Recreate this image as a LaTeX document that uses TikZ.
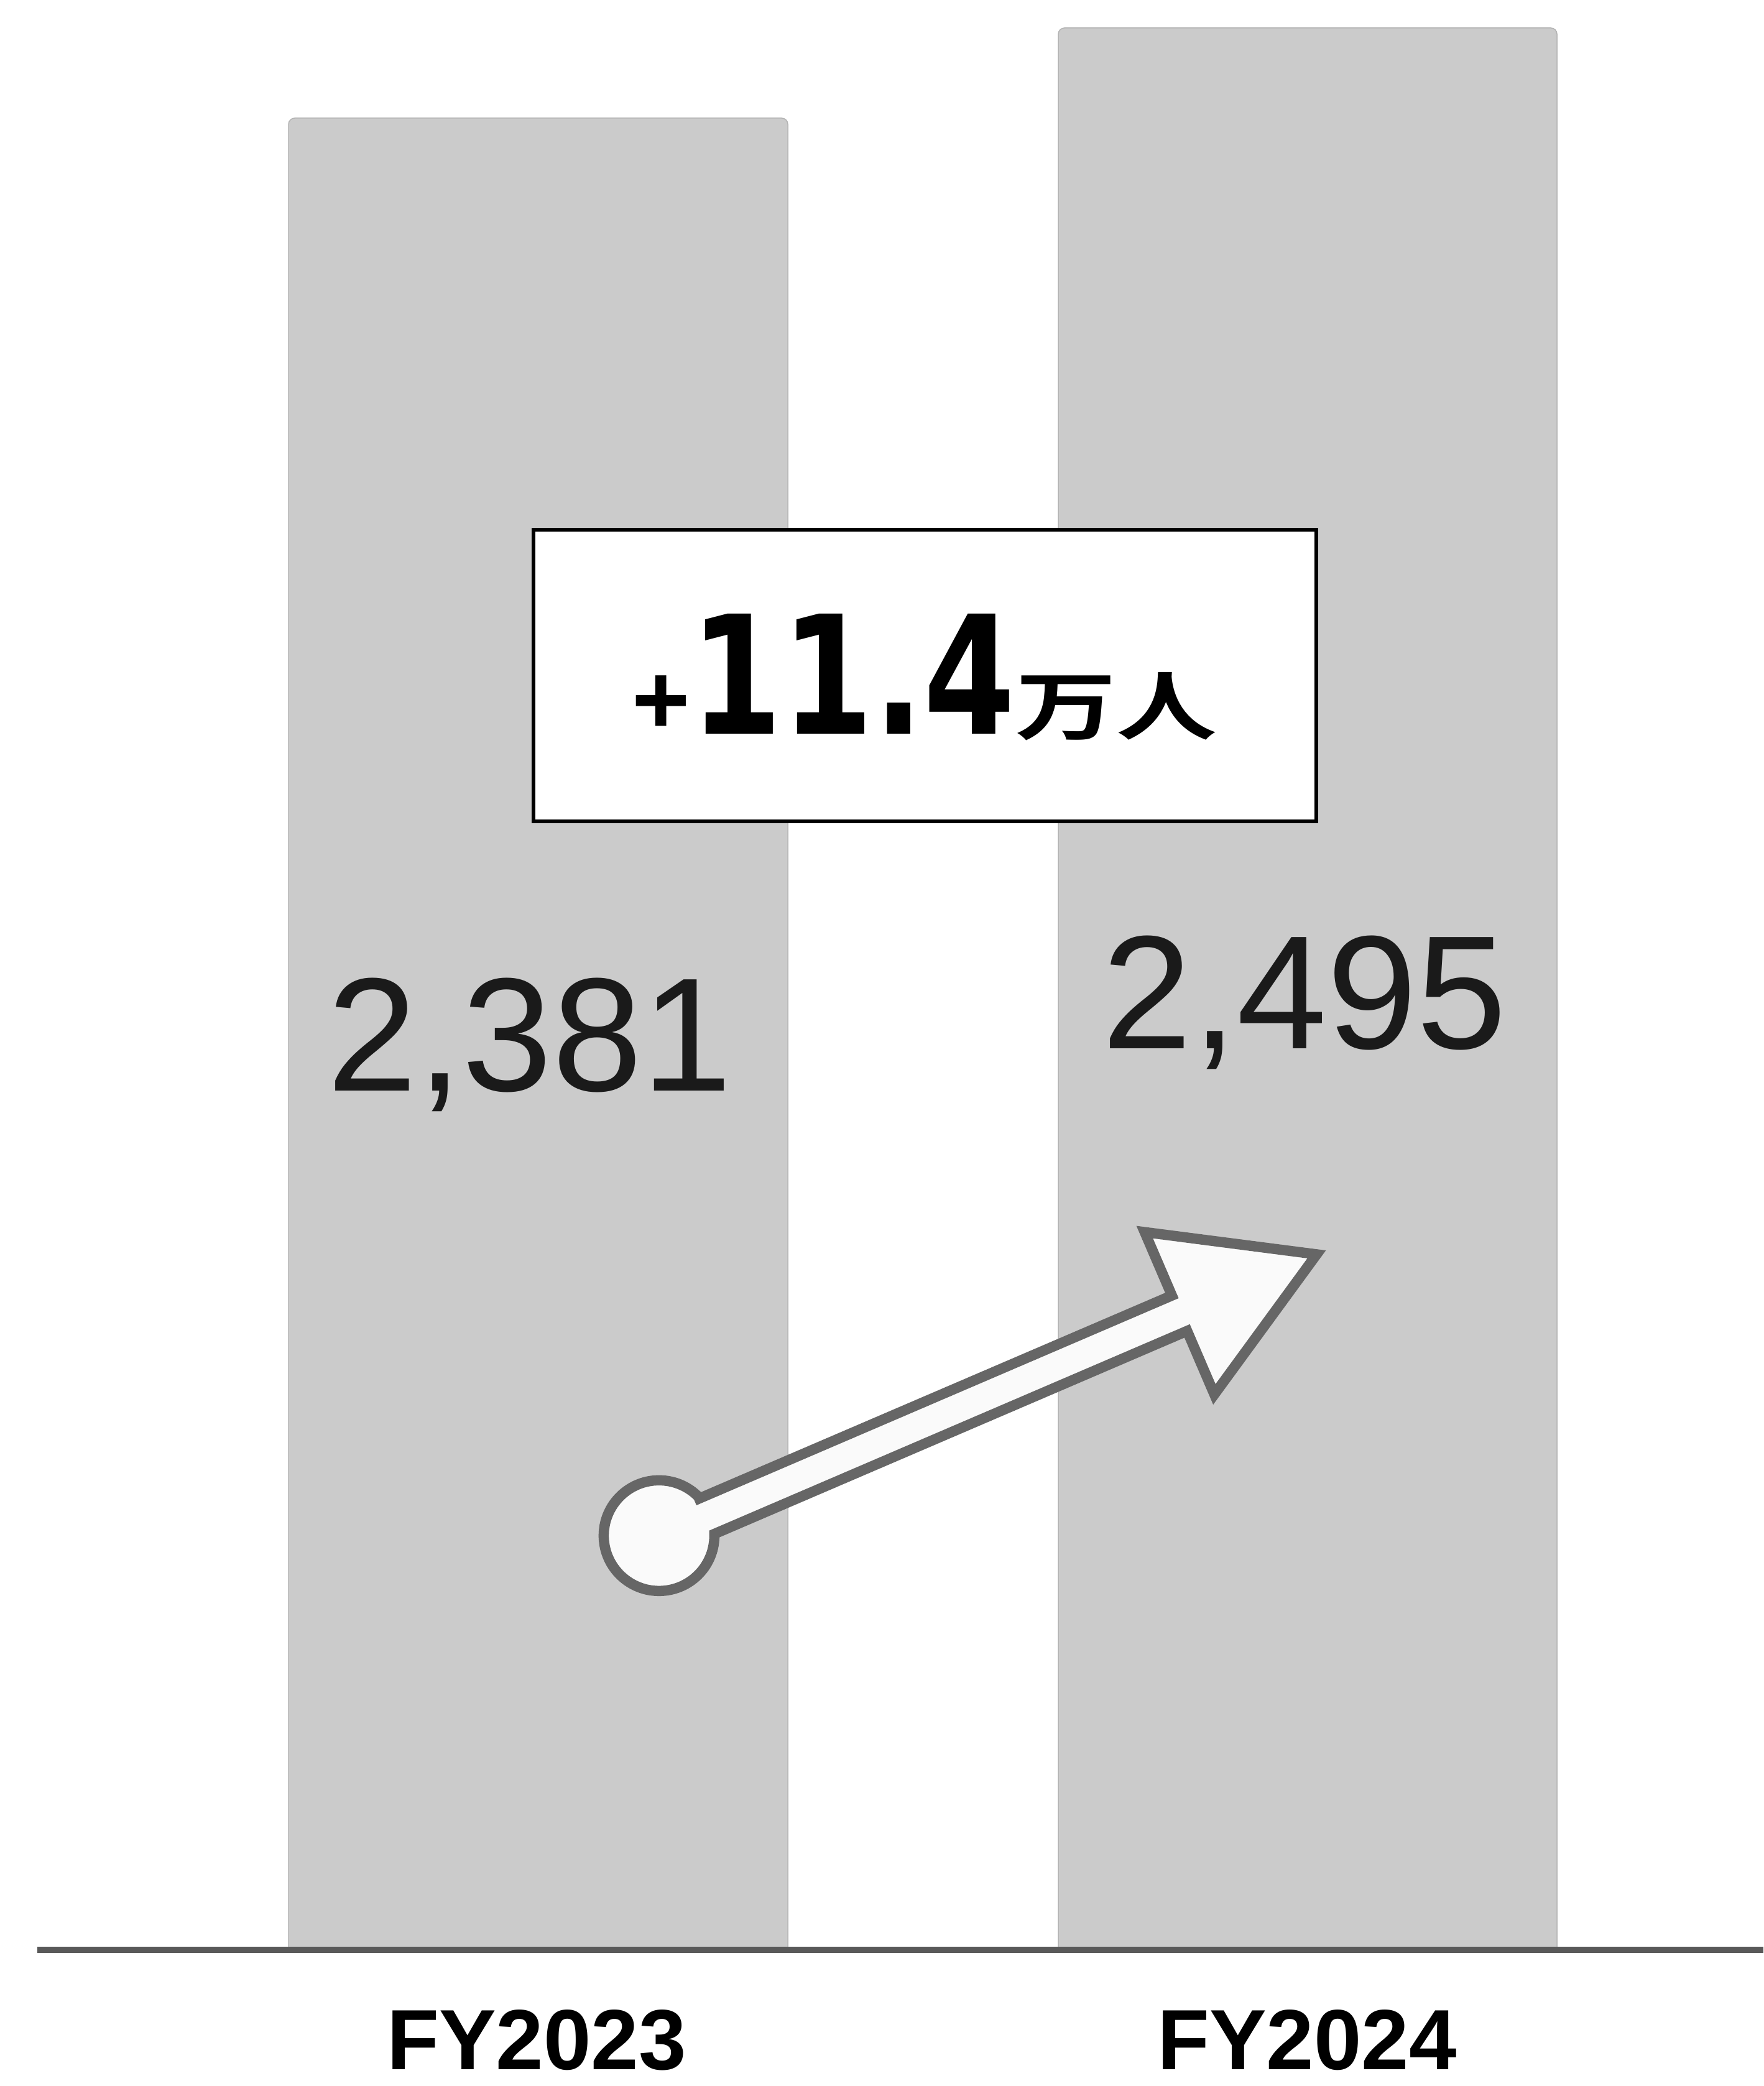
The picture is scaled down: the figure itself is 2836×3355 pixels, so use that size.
\documentclass[tikz,border=0pt]{standalone}
\usepackage{fontspec}
\usepackage{graphicx}
\setmainfont{Liberation Sans}
\newfontfamily\digfont[FakeStretch=0.8]{DejaVu Sans Bold}
\newfontfamily\cjkb{Noto Sans CJK JP Bold}
\definecolor{barfill}{HTML}{CBCBCB}
\definecolor{barline}{HTML}{B3B3B3}
\definecolor{axisc}{HTML}{595959}
\definecolor{arrowc}{HTML}{666666}
\definecolor{txt}{HTML}{1A1A1A}
\tikzset{
  barshape/.style={fill=barfill, draw=barline, line width=0.3pt, rounded corners=2pt},
  valtext/.style={anchor=base, text=txt, inner sep=0pt, font=\fontsize{52}{52}\selectfont},
  yeartext/.style={anchor=base, inner sep=0pt, font=\fontsize{27.5}{27.5}\selectfont\bfseries},
  deltabox/.style={draw=black, fill=white, line width=1.2pt},
  bigarrow/.style={draw=arrowc, fill=white!98!black, line width=3.3pt, line join=miter}
}
\begin{document}
\begin{tikzpicture}[x=0.2pt, y=0.2pt]
\useasboundingbox (0,0) rectangle (2836,3355);
% bars
\path[barshape] (464,219) -- (464,3165) -- (1267,3165) -- (1267,219);
\path[barshape] (1702,219) -- (1702,3310) -- (2504,3310) -- (2504,219);
% axis
\draw[axisc, line width=1.9pt] (60,219) -- (2836,219);
% values
\node[valtext] (v23) at (852,1600) {2,381};
\node[valtext] (v24) at (2098,1668) {2,495};
% years
\node[yeartext] (y23) at (863,26) {FY2023};
\node[yeartext] (y24) at (2102,26) {FY2024};
% delta box
\path[deltabox] (858,2034) rectangle (2117,2503);
\node[anchor=base, inner sep=0pt] (delta) at (1487,2174)
  {{\fontsize{32}{32}\selectfont\bfseries +}{\digfont\fontsize{53}{53}\selectfont 11.4}\scalebox{1.35}[1]{\cjkb\fontsize{24}{24}\selectfont 万人}};
% arrow
\begin{scope}[shift={(1059,883)}, rotate=23.24]
\path[bigarrow] (84.5,31) -- (912,31) -- (912,142) -- (1152,0) -- (912,-142) -- (912,-31) -- (84.5,-31)
  arc[start angle=-21.5, end angle=-338.5, radius=89] -- cycle;
\end{scope}
\end{tikzpicture}
\end{document}
